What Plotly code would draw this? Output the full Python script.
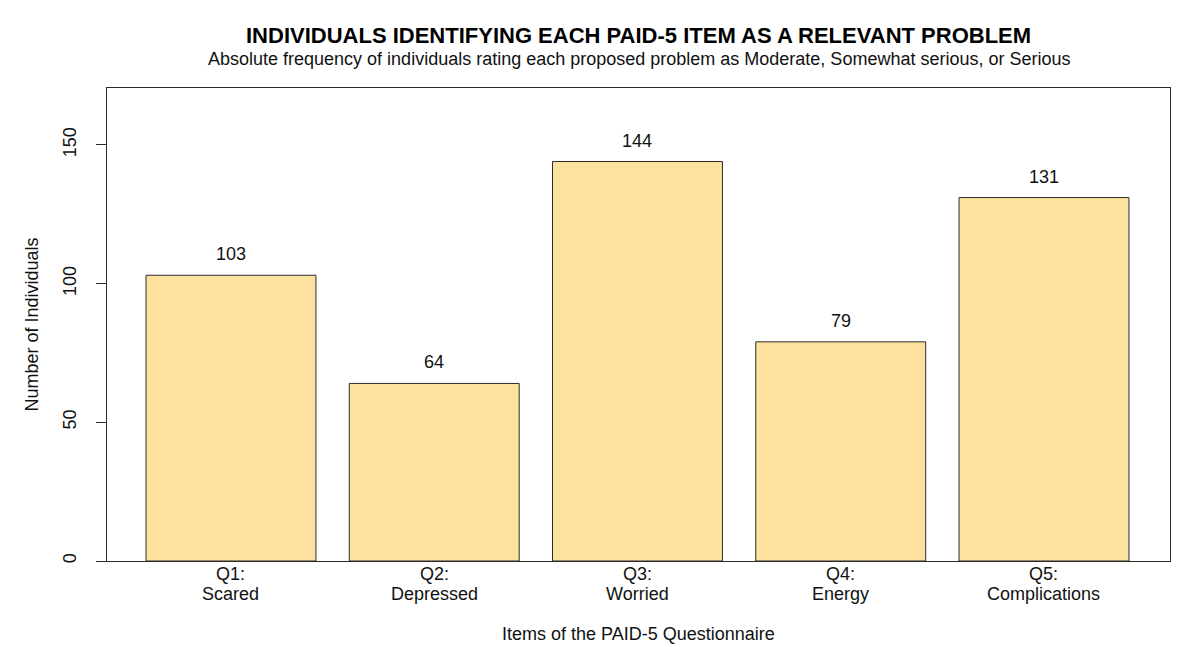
import plotly.graph_objects as go

codes = ["Q1:", "Q2:", "Q3:", "Q4:", "Q5:"]
names = ["Scared", "Depressed", "Worried", "Energy", "Complications"]
counts = [103, 64, 144, 79, 131]
y_ticks = [0, 50, 100, 150]

title_text = "INDIVIDUALS IDENTIFYING EACH PAID-5 ITEM AS A RELEVANT PROBLEM"
subtitle_text = "Absolute frequency of individuals rating each proposed problem as Moderate, Somewhat serious, or Serious"
x_title = "Items of the PAID-5 Questionnaire"
y_title = "Number of Individuals"

FONT = "Liberation Sans, Arial, Helvetica, sans-serif"
LINE = "#2b2b2b"
FS = 18

fig = go.Figure()
fig.add_trace(go.Bar(
    x=codes, y=counts, width=0.836,
    marker=dict(color="#FDE19E", line=dict(color=LINE, width=1)),
    hovertext=names, hoverinfo="text+y",
))

annotations = []
for c, n, v in zip(codes, names, counts):
    annotations.append(dict(x=c, y=v, xref="x", yref="y", text=str(v), showarrow=False,
                            yanchor="bottom", yshift=9, font=dict(size=FS, color="#111")))
    annotations.append(dict(x=c, y=0, xref="x", yref="paper", text=c, showarrow=False,
                            yanchor="middle", yshift=-13, font=dict(size=FS, color="#111")))
    annotations.append(dict(x=c, y=0, xref="x", yref="paper", text=n, showarrow=False,
                            yanchor="middle", yshift=-33, font=dict(size=FS, color="#111")))

annotations += [
    dict(x=0.5, y=1, xref="paper", yref="paper", text="<b>" + title_text + "</b>", showarrow=False,
         yanchor="middle", yshift=53, font=dict(size=22, color="#000", family=FONT)),
    dict(x=0.5, y=1, xref="paper", yref="paper", text=subtitle_text, showarrow=False,
         yanchor="middle", yshift=29, font=dict(size=FS, color="#111", family=FONT)),
    dict(x=0.5, y=0, xref="paper", yref="paper", text=x_title, showarrow=False,
         yanchor="middle", yshift=-73, font=dict(size=FS, color="#111", family=FONT)),
    dict(x=0, y=0.5, xref="paper", yref="paper", text=y_title, showarrow=False, textangle=-90,
         xanchor="center", xshift=-76, font=dict(size=FS, color="#111", family=FONT)),
]

fig.update_layout(
    width=1179, height=647,
    margin=dict(l=107, r=9, t=88, b=86),
    paper_bgcolor="white", plot_bgcolor="white",
    font=dict(family=FONT, size=FS, color="#111"),
    showlegend=False,
    annotations=annotations,
    xaxis=dict(range=[-0.61, 4.62], showgrid=False, zeroline=False, showline=True,
               linecolor=LINE, linewidth=1, mirror=True, ticks="", showticklabels=False),
    yaxis=dict(range=[0, 170.5], tickvals=y_ticks, showgrid=False, zeroline=False,
               showline=True, linecolor=LINE, linewidth=1, mirror=True,
               ticks="outside", ticklen=10, tickcolor=LINE, tickangle=-90,
               ticklabelstandoff=13, tickfont=dict(size=FS)),
)

fig.write_html("out.html", config={"displayModeBar": False},
               post_script="document.body.style.margin='0';document.body.style.overflow='hidden';")
